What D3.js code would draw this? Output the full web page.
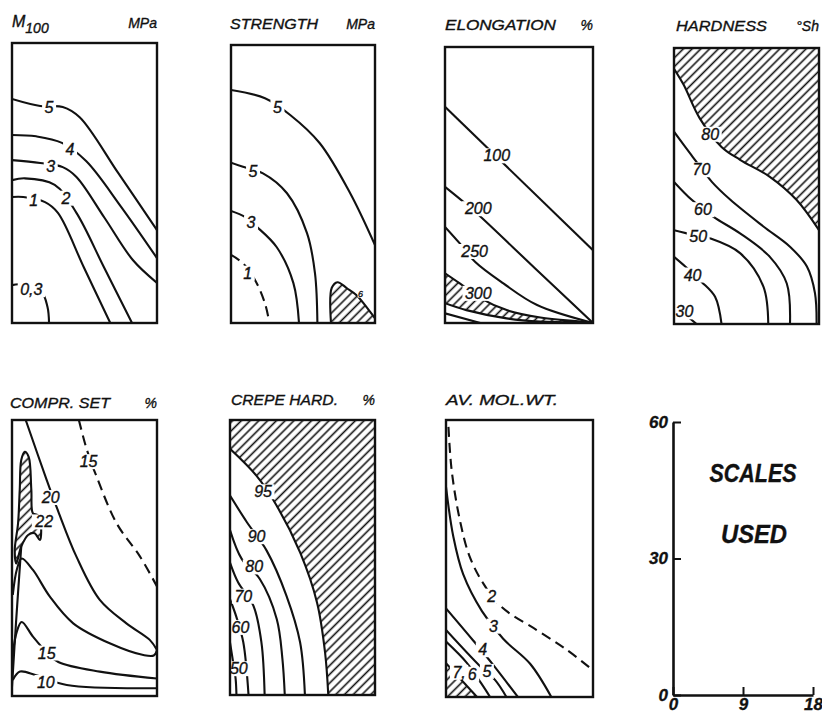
<!DOCTYPE html>
<html>
<head>
<meta charset="utf-8">
<script src="https://cdn.jsdelivr.net/npm/d3@7"></script>
<style>
  body { margin: 0; background: #fff; }
  text { font-family: "Liberation Sans", Arial, sans-serif; font-style: italic; fill: #111; stroke: #111; stroke-width: 0.35; }
</style>
</head>
<body>
<div id="chart"></div>
<script>
// every panel uses the same plot units: x 0..18, y 0..60 (see "scales used")
const xDomain = [0, 18], yDomain = [0, 60];
const scaleXTicks = [0, 9, 18];
const scaleYTicks = [0, 30, 60];

// contour lines, points in plot units, label spot "at"
const m100Lines = [
  { v: "5", pts: [[0,48],[3.5,46.5],[6.3,46.3],[8.4,44.1],[13.2,32.1],[18,19.9]], at: [4.6,46.2] },
  { v: "4", pts: [[0,40.3],[3,40],[6.2,38.6],[9.2,34.7],[13.5,25],[18,13.9]], at: [7.2,37.3] },
  { v: "3", pts: [[0,34.9],[3.5,34.3],[6.3,33.4],[8,31.3],[11.5,22.5],[15,13.5],[18,8.6]], at: [4.8,33.6] },
  { v: "2", pts: [[0,30.6],[1.6,31],[5.3,29.6],[8,23.6],[11.4,12],[14.9,0]], at: [6.7,26.8] },
  { v: "1", pts: [[0,27],[1.4,27],[4.1,25.9],[5.7,23.6],[8.9,12],[12.2,0]], at: [2.7,26.4] },
  { v: "0,3", pts: [[0,8.1],[1,8.3],[3.6,6.8],[4.4,3.5],[4.6,0]], at: [2.4,7.2] }
];
const strengthLines = [
  { v: "5", pts: [[0,50.3],[4.25,48.5],[7.4,44.9],[11.1,38.8],[14.9,28],[18,16.8]], at: [5.8,46.6] },
  { v: "5", pts: [[0,34.6],[1.5,33.7],[4,32.3],[7,28],[9.5,19.4],[10.5,10.7],[10.8,0]], at: [2.75,32.8] },
  { v: "3", pts: [[0,24.2],[1.75,22.9],[3.2,20.8],[5.7,16.4],[7.8,8.6],[8.5,0]], at: [2.5,21.7] },
  { v: "1", dash: true, pts: [[0,14.7],[1.5,12.9],[3,9.3],[4.25,4.2],[4.8,0]], at: [2.1,10.8] }
];
const strengthHatch = [
  { v: "6", small: true, edge: [[12.5,0],[12.6,7.6],[13.3,8.8],[14.5,7.5],[15.7,6.0],[17.4,2.4],[18,1.0]], corners: [[18,0]], at: [16.2,6.4] }
];
const elongLines = [
  { v: "100", pts: [[0,47],[18,15.8]], at: [6.3,36.4] },
  { v: "200", pts: [[0,29.6],[2.2,26.4],[3.9,23.8],[11,11.8],[18,0]], at: [4.05,24.9] },
  { v: "250", pts: [[0,20.9],[1.8,17.3],[3.65,13.3],[7.1,8.6],[11.2,3.9],[18,0]], at: [3.6,15.6] },
  { v: "", pts: [[0,2.1],[4.3,0]] }
];
const elongHatch = [
  { v: "300", edge: [[0,10.8],[1.8,8.6],[4.3,5.4],[7.5,2.8],[11.6,1.2],[16.4,0.3],[18,0]],
    back: [[16.4,0.15],[11.6,0.3],[7.5,1.0],[2.6,2.8],[0,4.3]], at: [4.05,6.5] }
];
const hardLines = [
  { v: "70", pts: [[0,41.8],[2.0,37.1],[4.7,30.9],[7,27],[11.1,21.2],[14.4,16.8],[16.5,12.5],[17.5,6.7],[17.7,0]], at: [3.4,33.6] },
  { v: "60", pts: [[0,30.9],[2.2,27],[4.9,23.3],[8.2,19.7],[11.9,14.6],[14,8.8],[14.4,0]], at: [3.6,24.9] },
  { v: "50", pts: [[0,20.4],[1.6,19.7],[4.5,18.6],[8.2,15.4],[11.1,8.1],[11.7,0]], at: [3.0,19.1] },
  { v: "40", pts: [[0,14.6],[1.4,12.5],[3.4,9.2],[5.1,5.9],[5.9,0]], at: [2.3,10.7] },
  { v: "30", pts: [[0,4.1],[2.8,0]], at: [1.3,2.7] }
];
const hardHatch = [
  { v: "80", edge: [[0,55.5],[1.2,52],[3.2,44.7],[5.9,38.5],[8.2,35.7],[11.9,32],[15.2,27],[18,20.4]], corners: [[18,60],[0,60]], at: [4.5,41.3] }
];
const setLines = [
  { v: "15", dash: true, pts: [[8.3,60],[9.3,53.5],[10.5,47.7],[13,37.5],[15.9,30.3],[18,23.8]], at: [9.5,51] },
  { v: "20", pts: [[1.7,60],[4.3,47],[5.75,40.1],[8,30.3],[10.9,20.9],[14.2,15.8],[17.1,12.2],[18,10]], at: [4.8,43.2] },
  { v: "", pts: [[0.1,22],[0.6,27.5],[1.2,29.9],[2.6,27.4],[4.7,21.6],[7.6,15.8],[12.2,11.4],[16.3,8.9],[17.6,8.8],[18,10]] },
  { v: "15", pts: [[0.1,9.3],[0.6,14],[1.2,16.1],[2.6,12.9],[4.3,9.5],[5.75,7.4],[10.9,5.3],[18,3.8]], at: [4.3,9.4] },
  { v: "10", pts: [[0.1,3.5],[1.0,5.3],[3,4.5],[6.8,2.4],[18,1.7]], at: [4.2,3.0] },
  { v: "", pts: [[0,2],[0.5,16],[1.15,32.5]] }
];
const setHatch = [
  { v: "22", closed: true, edge: [[1.58,53.1],[2.07,52.0],[2.4,44.8],[2.6,39.7],[3.2,39.3],[3.6,36.8],[3.45,33.9],[2.8,35.4],[2.0,35.0],[1.15,32.5],[0.53,28.8],[0.34,31.7],[0.75,37.5],[0.96,44.8],[1.15,51.3]], at: [4.0,37.9] }
];
const crepeLines = [
  { v: "90", pts: [[0,43.5],[2.1,37.7],[4.55,31.5],[7,21.7],[8.7,11.5],[9.3,0]], at: [3.3,34.6] },
  { v: "80", pts: [[0,36],[1.45,29.7],[3.7,25.3],[5.8,16.6],[6.5,8],[6.8,0]], at: [3.0,28] },
  { v: "70", pts: [[0,28.9],[1.0,24.6],[2.9,19.5],[3.9,11.5],[4.3,0]], at: [1.65,21.6] },
  { v: "60", pts: [[0,20.9],[0.8,17],[1.65,11.5],[2.3,0]], at: [1.3,14.8] },
  { v: "50", pts: [[0,11.5],[0.4,7],[0.7,3.5],[0.8,0]], at: [1.1,5.8] }
];
const crepeHatch = [
  { v: "95", edge: [[0,53.7],[3.3,47.8],[5.8,41.3],[8.7,31.1],[10.8,20.2],[11.8,9.3],[12.2,0]], corners: [[18,0],[18,60],[0,60]], at: [4.1,44.4] }
];
const molLines = [
  { v: "2", dash: true, pts: [[0.3,58.5],[0.7,49],[1.7,38.3],[2.9,30.4],[4.6,24.5],[6.8,19.5],[11.1,14.5],[14.8,10.2],[18,5.8]], at: [5.6,21.9] },
  { v: "3", pts: [[0,45.5],[0.9,34.7],[2.1,26.6],[4.4,18.6],[7,12.6],[10.3,7.2],[12.9,0]], at: [5.8,15.4] },
  { v: "4", pts: [[0,19.2],[3.3,12.3],[5.8,6.9],[8.8,0]], at: [4.5,10.3] },
  { v: "5", pts: [[0,14.5],[4.2,6.6],[6,3.7],[7.4,0]], at: [5.0,5.6] },
  { v: "6", pts: [[0,12],[2.5,7.5],[4.3,3],[5.4,0]], at: [3.2,5.0] }
];
const molHatch = [
  { v: "7,", edge: [[0,7.3],[3.8,0]], corners: [[0,0]], at: [1.6,5.4] }
];

const svg = d3.select("#chart").append("svg")
  .attr("width", 822)
  .attr("height", 716);

const defs = svg.append("defs");
function addHatch(id, gap) {
  const p = defs.append("pattern")
    .attr("id", id)
    .attr("patternUnits", "userSpaceOnUse")
    .attr("width", gap)
    .attr("height", gap)
    .attr("patternTransform", "rotate(45)");
  p.append("line")
    .attr("x1", gap / 2).attr("y1", 0)
    .attr("x2", gap / 2).attr("y2", gap)
    .attr("stroke", "#111")
    .attr("stroke-width", 1.6);
}
addHatch("hatch", 6.2);

function drawPanel(id, box, lines, hatches, title, unit) {
  const x = d3.scaleLinear(xDomain, [box.x0, box.x1]);
  const y = d3.scaleLinear(yDomain, [box.y1, box.y0]);
  const line = d3.line().x(d => x(d[0])).y(d => y(d[1])).curve(d3.curveCatmullRom);
  const closedLine = d3.line().x(d => x(d[0])).y(d => y(d[1])).curve(d3.curveCatmullRomClosed);

  defs.append("clipPath").attr("id", "clip-" + id)
    .append("rect")
    .attr("x", box.x0).attr("y", box.y0)
    .attr("width", box.x1 - box.x0).attr("height", box.y1 - box.y0);

  const g = svg.append("g").attr("clip-path", `url(#clip-${id})`);

  hatches.forEach(h => {
    let d;
    if (h.closed) d = closedLine(h.edge);
    else if (h.back) d = line(h.edge) + line(h.back).replace(/^M/, "L") + "Z";
    else d = line(h.edge) + h.corners.map(c => `L${x(c[0])},${y(c[1])}`).join("") + "Z";
    g.append("path").attr("d", d).attr("fill", "url(#hatch)");
    g.append("path")
      .attr("d", h.closed || h.back ? d : line(h.edge))
      .attr("fill", "none")
      .attr("stroke", "#111")
      .attr("stroke-width", 2.1);
  });

  g.selectAll(".contour")
    .data(lines)
    .join("path")
    .attr("class", "contour")
    .attr("d", d => line(d.pts))
    .attr("fill", "none")
    .attr("stroke", "#111")
    .attr("stroke-width", 2.1)
    .attr("stroke-dasharray", d => d.dash ? "10,6" : null);

  // labels sit in a white gap cut out of their line
  const labelled = lines.concat(hatches).filter(d => d.v && d.at);
  labelled.forEach(d => {
    const t = g.append("text")
      .attr("x", x(d.at[0]))
      .attr("y", y(d.at[1]))
      .attr("dy", "0.36em")
      .attr("text-anchor", "middle")
      .attr("font-size", d.small ? 9 : 16)
      .text(d.v);
    const b = t.node().getBBox();
    const pad = d.small ? 0.5 : 2.5;
    g.insert("rect", () => t.node())
      .attr("x", b.x - pad).attr("y", b.y + 1)
      .attr("width", b.width + pad * 2).attr("height", b.height - 2)
      .attr("fill", "#fff");
  });

  svg.append("rect")
    .attr("x", box.x0).attr("y", box.y0)
    .attr("width", box.x1 - box.x0).attr("height", box.y1 - box.y0)
    .attr("fill", "none")
    .attr("stroke", "#111")
    .attr("stroke-width", 2.4);

  svg.append("text")
    .attr("x", title.x).attr("y", title.y)
    .attr("font-size", 15)
    .attr("textLength", title.w)
    .attr("lengthAdjust", "spacingAndGlyphs")
    .text(title.text);
  if (unit) {
    svg.append("text")
      .attr("x", box.x1).attr("y", title.y)
      .attr("text-anchor", "end")
      .attr("font-size", 14)
      .text(unit);
  }
}

drawPanel("m100", { x0: 12, x1: 157, y0: 43, y1: 323 }, m100Lines, [], { text: "", x: 12, y: 28, w: 0 }, "MPa");
drawPanel("str", { x0: 231, x1: 375, y0: 45, y1: 323 }, strengthLines, strengthHatch, { text: "STRENGTH", x: 230, y: 29, w: 88 }, "MPa");
drawPanel("elo", { x0: 445, x1: 593, y0: 47, y1: 323 }, elongLines, elongHatch, { text: "ELONGATION", x: 445, y: 30, w: 111 }, "%");
drawPanel("hard", { x0: 674, x1: 819, y0: 48, y1: 324 }, hardLines, hardHatch, { text: "HARDNESS", x: 676, y: 31, w: 91 }, "°Sh");
drawPanel("set", { x0: 12, x1: 157, y0: 420, y1: 696 }, setLines, setHatch, { text: "COMPR. SET", x: 10, y: 408, w: 100 }, "%");
drawPanel("crepe", { x0: 230, x1: 375, y0: 420, y1: 695 }, crepeLines, crepeHatch, { text: "CREPE HARD.", x: 231, y: 405, w: 107 }, "%");
drawPanel("mol", { x0: 446, x1: 593, y0: 420, y1: 697 }, molLines, molHatch, { text: "AV. MOL.WT.", x: 446, y: 405, w: 112 }, null);

// M100 title with subscript
const mt = svg.append("text").attr("x", 12).attr("y", 27).attr("font-size", 16);
mt.append("tspan").text("M");
mt.append("tspan").attr("dy", 6).attr("font-size", 14).text("100");

// scales panel
const sx = d3.scaleLinear(xDomain, [673, 813]);
const sy = d3.scaleLinear(yDomain, [695, 422]);

const yAxis = svg.append("g")
  .attr("transform", "translate(673,0)")
  .call(d3.axisLeft(sy).tickValues(scaleYTicks).tickSizeInner(-8).tickSizeOuter(0).tickPadding(5));
const xAxis = svg.append("g")
  .attr("transform", "translate(0,695)")
  .call(d3.axisBottom(sx).tickValues(scaleXTicks).tickSizeInner(-8).tickSizeOuter(0).tickPadding(3));

[yAxis, xAxis].forEach(a => {
  a.select(".domain").attr("stroke", "#111").attr("stroke-width", 2.6);
  a.selectAll(".tick line").attr("stroke", "#111").attr("stroke-width", 2);
  a.selectAll(".tick text")
    .attr("fill", "#111")
    .attr("font-family", "Liberation Sans, Arial, sans-serif")
    .attr("font-style", "italic")
    .attr("font-weight", "bold")
    .attr("font-size", 17);
});

svg.append("text")
  .attr("x", 753).attr("y", 482)
  .attr("text-anchor", "middle")
  .attr("font-size", 25)
  .attr("font-weight", "bold")
  .attr("textLength", 87)
  .attr("lengthAdjust", "spacingAndGlyphs")
  .text("SCALES");
svg.append("text")
  .attr("x", 754).attr("y", 543)
  .attr("text-anchor", "middle")
  .attr("font-size", 25)
  .attr("font-weight", "bold")
  .attr("textLength", 66)
  .attr("lengthAdjust", "spacingAndGlyphs")
  .text("USED");
</script>
</body>
</html>
